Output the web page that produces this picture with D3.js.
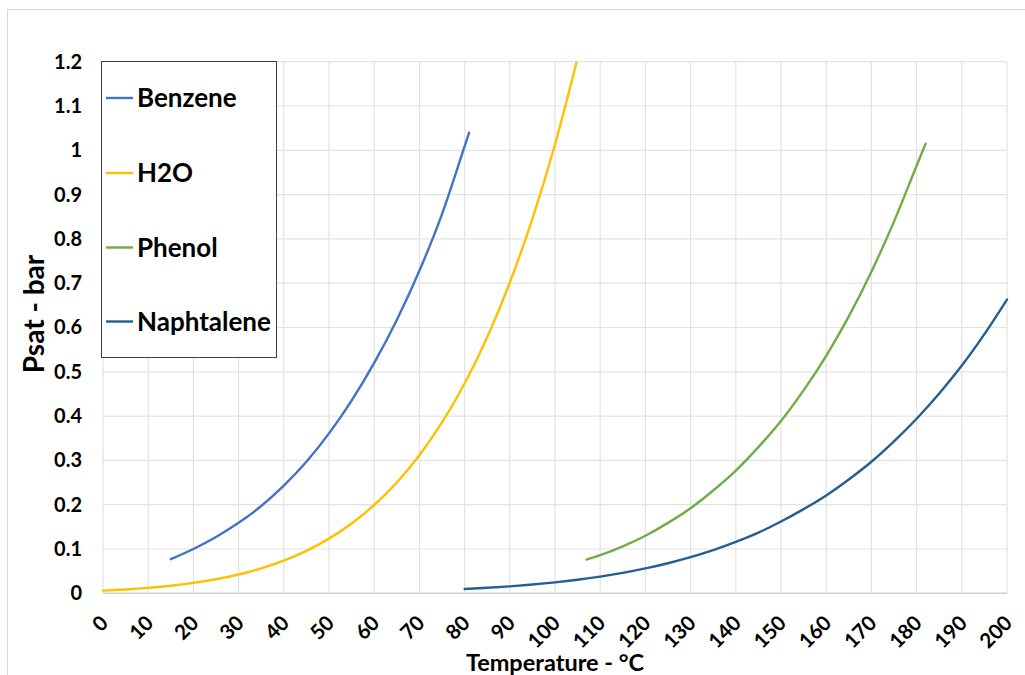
<!DOCTYPE html>
<html>
<head>
<meta charset="utf-8">
<script src="https://cdn.jsdelivr.net/npm/d3@7"></script>
<style>
  html, body { margin: 0; padding: 0; background: #ffffff; }
  svg { display: block; }
  text { font-family: Lato, "Open Sans", "Liberation Sans", sans-serif; font-weight: bold; fill: #000; }
</style>
</head>
<body>
<script>
// ---- data ----
const seriesNames = ["Benzene", "H2O", "Phenol", "Naphtalene"];
const seriesColors = ["#4472C4", "#FFC000", "#70AD47", "#255E91"];

const benzeneT = [15, 20, 25, 30, 35, 40, 45, 50, 55, 60, 65, 70, 75, 80, 81];
const benzeneP = [0.077, 0.100, 0.127, 0.159, 0.197, 0.243, 0.297, 0.361, 0.435, 0.520, 0.617, 0.728, 0.856, 1.009, 1.040];

const waterT = [0, 5, 10, 15, 20, 25, 30, 35, 40, 45, 50, 55, 60, 65, 70, 75, 80, 85, 90, 95, 100, 105];
const waterP = [0.006, 0.0087, 0.0123, 0.017, 0.0234, 0.0317, 0.0424, 0.0563, 0.0738, 0.0959, 0.1234, 0.1574, 0.1993, 0.2502, 0.3118, 0.3856, 0.4737, 0.578, 0.7012, 0.8453, 1.0132, 1.208];

const phenolT = [107, 110, 115, 120, 125, 130, 135, 140, 145, 150, 155, 160, 165, 170, 175, 180, 182];
const phenolP = [0.076, 0.086, 0.106, 0.130, 0.159, 0.192, 0.232, 0.277, 0.330, 0.389, 0.458, 0.536, 0.625, 0.726, 0.839, 0.965, 1.015];

const naphT = [80, 85, 90, 95, 100, 105, 110, 115, 120, 125, 130, 135, 140, 145, 150, 155, 160, 165, 170, 175, 180, 185, 190, 195, 200];
const naphP = [0.0097, 0.0124, 0.0157, 0.0198, 0.0247, 0.0306, 0.0377, 0.0461, 0.0561, 0.0679, 0.0815, 0.0974, 0.116, 0.137, 0.162, 0.190, 0.221, 0.257, 0.297, 0.343, 0.394, 0.451, 0.514, 0.585, 0.663];

const xTicks = [0, 10, 20, 30, 40, 50, 60, 70, 80, 90, 100, 110, 120, 130, 140, 150, 160, 170, 180, 190, 200];
const yTicks = [0, 0.1, 0.2, 0.3, 0.4, 0.5, 0.6, 0.7, 0.8, 0.9, 1, 1.1, 1.2];
const xTitle = "Temperature - °C";
const yTitle = "Psat - bar";

// ---- layout ----
const W = 1025, H = 675;
const plot = { left: 103, right: 1007, top: 61.7, bottom: 593.3 };

const svg = d3.select("body").append("svg").attr("width", W).attr("height", H);

// outer chart border
svg.append("rect").attr("x", 7.5).attr("y", 9.5).attr("width", W + 10).attr("height", H + 10)
  .attr("fill", "#fff").attr("stroke", "#d9d9d9").attr("stroke-width", 1);

const x = d3.scaleLinear().domain([0, 200]).range([plot.left, plot.right]);
const y = d3.scaleLinear().domain([0, 1.2]).range([plot.bottom, plot.top]);

// gridlines
const grid = svg.append("g");
grid.selectAll(".hg").data(yTicks.filter(d => d > 0)).enter().append("line")
  .attr("x1", plot.left).attr("x2", plot.right)
  .attr("y1", d => y(d)).attr("y2", d => y(d))
  .attr("stroke", "#e3e3e3").attr("stroke-width", 1.2);
grid.selectAll(".vg").data(xTicks.filter(d => d > 0)).enter().append("line")
  .attr("x1", d => x(d)).attr("x2", d => x(d))
  .attr("y1", plot.top).attr("y2", plot.bottom)
  .attr("stroke", "#e3e3e3").attr("stroke-width", 1.2);
grid.append("line").attr("x1", plot.left).attr("x2", plot.left)
  .attr("y1", plot.top).attr("y2", plot.bottom).attr("stroke", "#e3e3e3").attr("stroke-width", 1.2);
// x axis line
grid.append("line").attr("x1", plot.left).attr("x2", plot.right)
  .attr("y1", y(0)).attr("y2", y(0)).attr("stroke", "#d0d0d0").attr("stroke-width", 1.5);

// y axis labels via d3 axis
const yAxis = d3.axisLeft(y).tickValues(yTicks).tickSize(0).tickPadding(21)
  .tickFormat(d => d3.format("")(+d.toFixed(1)));
const gy = svg.append("g").attr("transform", `translate(${plot.left},0)`).call(yAxis);
gy.select(".domain").remove();
gy.selectAll("text").style("font-size", "20px").style("font-family", "Lato, sans-serif").style("font-weight", "bold").attr("fill", "#000");

// x axis labels via d3 axis, rotated
const xAxis = d3.axisBottom(x).tickValues(xTicks).tickSize(0).tickFormat(d3.format("d"));
const gx = svg.append("g").attr("transform", `translate(0,${plot.bottom})`).call(xAxis);
gx.select(".domain").remove();
gx.selectAll("text")
  .style("font-size", "20.5px").style("font-family", "Lato, sans-serif").style("font-weight", "bold").attr("fill", "#000")
  .attr("y", 0).attr("dy", 0)
  .attr("text-anchor", "end")
  .attr("transform", "translate(6,31) rotate(-45)");

// clip
svg.append("clipPath").attr("id", "clip").append("rect")
  .attr("x", plot.left - 2).attr("y", plot.top).attr("width", plot.right - plot.left + 4).attr("height", plot.bottom - plot.top + 2);

const series = [
  { name: seriesNames[0], color: seriesColors[0], T: benzeneT, P: benzeneP },
  { name: seriesNames[1], color: seriesColors[1], T: waterT, P: waterP },
  { name: seriesNames[2], color: seriesColors[2], T: phenolT, P: phenolP },
  { name: seriesNames[3], color: seriesColors[3], T: naphT, P: naphP }
];

const line = d3.line().x(d => x(d[0])).y(d => y(d[1])).curve(d3.curveMonotoneX);
svg.append("g").attr("clip-path", "url(#clip)")
  .selectAll("path").data(series).enter().append("path")
  .attr("d", s => line(s.T.map((t, i) => [t, s.P[i]])))
  .attr("fill", "none").attr("stroke", s => s.color).attr("stroke-width", 2.4)
  .attr("stroke-linecap", "round").attr("stroke-linejoin", "round");

// legend
const lg = svg.append("g");
lg.append("rect").attr("x", 101.5).attr("y", 61.5).attr("width", 175).attr("height", 296)
  .attr("fill", "#fff").attr("stroke", "#404040").attr("stroke-width", 1);
const legendY = [98, 173, 247.5, 321.5];
series.forEach((s, i) => {
  lg.append("line").attr("x1", 106).attr("x2", 133).attr("y1", legendY[i]).attr("y2", legendY[i])
    .attr("stroke", s.color).attr("stroke-width", 2.4);
  lg.append("text").attr("x", 137).attr("y", legendY[i]).attr("dy", "0.36em")
    .style("font-size", "26px").text(s.name);
});

// axis titles
svg.append("text").attr("x", (plot.left + plot.right) / 2).attr("y", 671)
  .attr("text-anchor", "middle").style("font-size", "23.5px").text(xTitle);
svg.append("text").attr("transform", `translate(44,314) rotate(-90)`)
  .attr("text-anchor", "middle").style("font-size", "28px").text(yTitle);
</script>
</body>
</html>
